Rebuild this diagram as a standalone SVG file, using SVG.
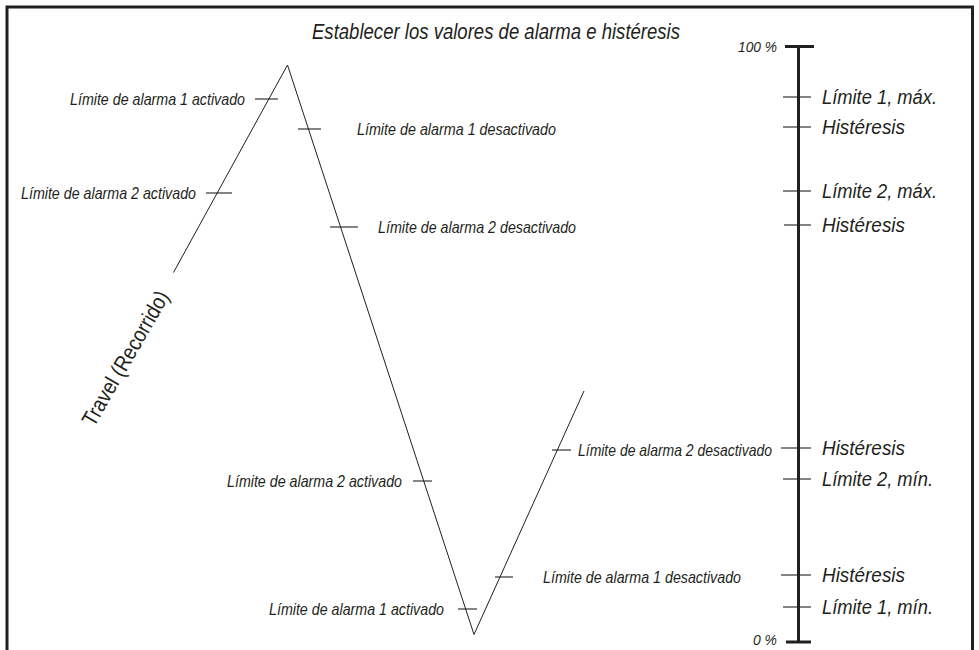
<svg xmlns="http://www.w3.org/2000/svg" width="979" height="650" viewBox="0 0 979 650">
<style>
.t{font-family:"Liberation Sans",Arial,sans-serif;font-style:italic;fill:#231f20}
.s{font-size:16.5px}
.r{font-size:20px}
.p{font-size:15px}
.ln{stroke:#231f20;stroke-width:1;fill:none}
.tk{stroke:#231f20;stroke-width:1.1;fill:none}
.ax{stroke:#231f20;stroke-width:3;fill:none}
</style>
<rect x="0" y="0" width="979" height="650" fill="#fff"/>
<path d="M7 660 V7 H972.5 V660" fill="none" stroke="#231f20" stroke-width="3"/>
<text class="t" x="312" y="39" textLength="368" lengthAdjust="spacingAndGlyphs" style="font-size:21.5px">Establecer los valores de alarma e histéresis</text>

<g id="travel">
<text x="132" y="362" text-anchor="middle" transform="rotate(-60 132 362)" textLength="152" lengthAdjust="spacingAndGlyphs" style="font-family:'Liberation Sans',Arial,sans-serif;font-size:22px;fill:#231f20">Travel (Recorrido)</text>
</g>

<g id="connectors">
<polyline class="ln" points="173.5,272.5 287.5,65 474,634.5 584,391"/>
<line class="tk" x1="255" y1="99" x2="278" y2="99"/>
<line class="tk" x1="206" y1="193" x2="232" y2="193"/>
<line class="tk" x1="298" y1="129" x2="321" y2="129"/>
<line class="tk" x1="330" y1="227" x2="358" y2="227"/>
<line class="tk" x1="413" y1="481" x2="432" y2="481"/>
<line class="tk" x1="458" y1="609" x2="477" y2="609"/>
<line class="tk" x1="495" y1="577" x2="513" y2="577"/>
<line class="tk" x1="552" y1="450" x2="571" y2="450"/>
</g>

<g id="labels-left">
<text class="t s" x="70" y="104.5" textLength="175" lengthAdjust="spacingAndGlyphs">Límite de alarma 1 activado</text>
<text class="t s" x="21" y="198.5" textLength="175" lengthAdjust="spacingAndGlyphs">Límite de alarma 2 activado</text>
<text class="t s" x="357" y="134.5" textLength="199" lengthAdjust="spacingAndGlyphs">Límite de alarma 1 desactivado</text>
<text class="t s" x="378" y="232.5" textLength="198" lengthAdjust="spacingAndGlyphs">Límite de alarma 2 desactivado</text>
<text class="t s" x="227" y="486.5" textLength="175" lengthAdjust="spacingAndGlyphs">Límite de alarma 2 activado</text>
<text class="t s" x="269" y="614.5" textLength="175" lengthAdjust="spacingAndGlyphs">Límite de alarma 1 activado</text>
<text class="t s" x="543" y="582.5" textLength="198" lengthAdjust="spacingAndGlyphs">Límite de alarma 1 desactivado</text>
<text class="t s" x="578" y="455.5" textLength="194" lengthAdjust="spacingAndGlyphs">Límite de alarma 2 desactivado</text>
</g>

<g id="scale">
<line class="ax" x1="798.5" y1="46" x2="798.5" y2="642"/>
<line class="ax" x1="785" y1="46.5" x2="814" y2="46.5"/>
<line class="ax" x1="786" y1="642" x2="811" y2="642"/>
<text class="t p" x="738" y="52" textLength="39" lengthAdjust="spacingAndGlyphs">100 %</text>
<text class="t p" x="753" y="645" textLength="24" lengthAdjust="spacingAndGlyphs">0 %</text>
<line class="tk" x1="783" y1="97" x2="811" y2="97"/>
<line class="tk" x1="783" y1="127" x2="811" y2="127"/>
<line class="tk" x1="783" y1="191" x2="811" y2="191"/>
<line class="tk" x1="784" y1="225" x2="811" y2="225"/>
<line class="tk" x1="781" y1="448" x2="811" y2="448"/>
<line class="tk" x1="783" y1="479" x2="811" y2="479"/>
<line class="tk" x1="781" y1="575" x2="811" y2="575"/>
<line class="tk" x1="783" y1="607" x2="811" y2="607"/>
<text class="t r" x="822" y="104" textLength="115" lengthAdjust="spacingAndGlyphs">Límite 1, máx.</text>
<text class="t r" x="822" y="134" textLength="83" lengthAdjust="spacingAndGlyphs">Histéresis</text>
<text class="t r" x="822" y="198" textLength="115" lengthAdjust="spacingAndGlyphs">Límite 2, máx.</text>
<text class="t r" x="822" y="232" textLength="83" lengthAdjust="spacingAndGlyphs">Histéresis</text>
<text class="t r" x="822" y="455" textLength="83" lengthAdjust="spacingAndGlyphs">Histéresis</text>
<text class="t r" x="822" y="486" textLength="111" lengthAdjust="spacingAndGlyphs">Límite 2, mín.</text>
<text class="t r" x="822" y="582" textLength="83" lengthAdjust="spacingAndGlyphs">Histéresis</text>
<text class="t r" x="822" y="614" textLength="111" lengthAdjust="spacingAndGlyphs">Límite 1, mín.</text>
</g>
</svg>
